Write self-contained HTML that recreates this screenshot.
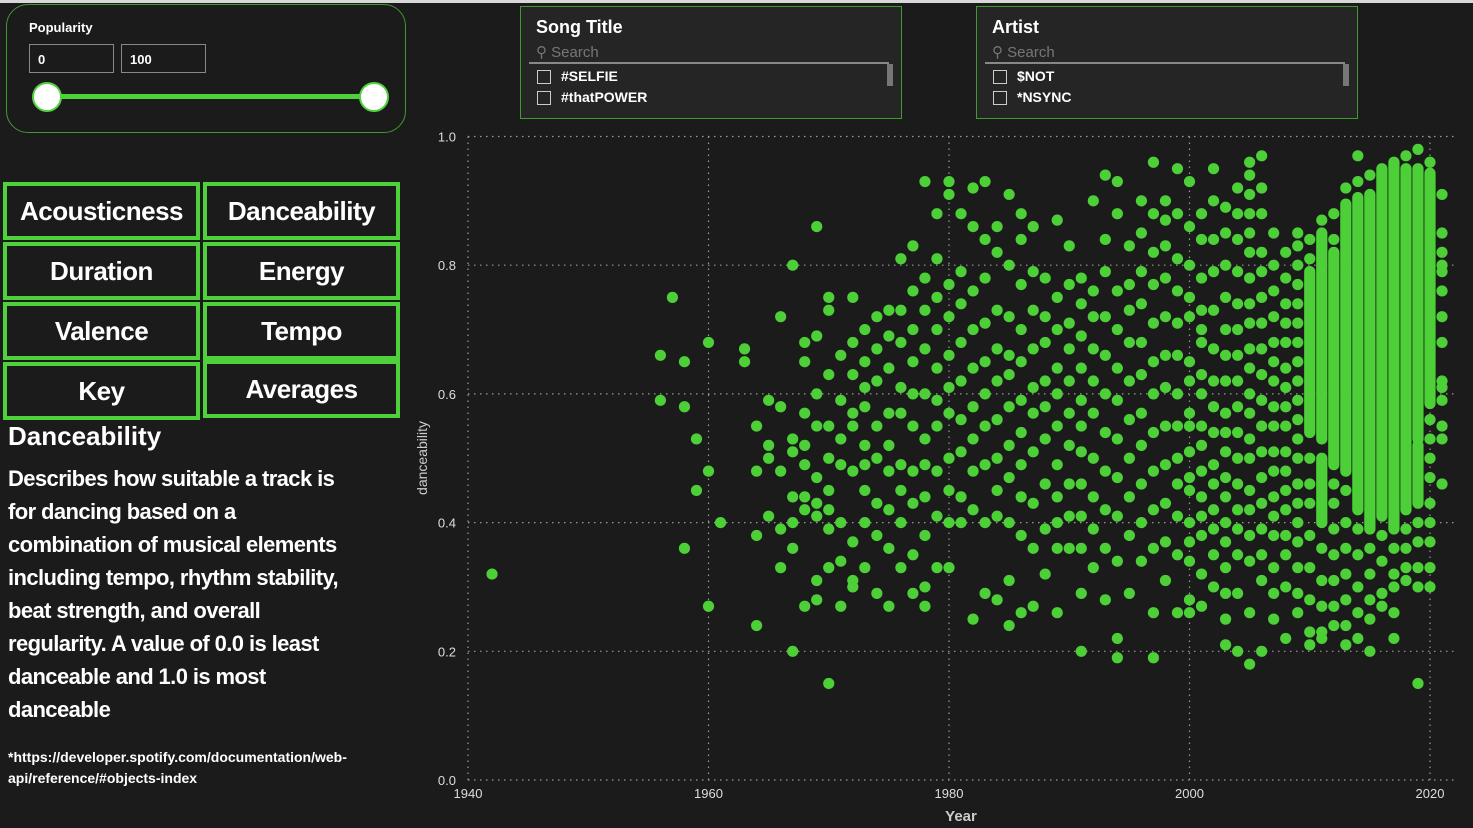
<!DOCTYPE html>
<html><head><meta charset="utf-8">
<style>
body{margin:0;width:1473px;height:828px;background:#1b1b1b;overflow:hidden;font-family:"Liberation Sans",sans-serif;color:#fff;position:relative}
.abs{position:absolute}
.btn{position:absolute;width:189px;height:50px;border:4px solid #4fd13c;background:#1b1b1b;display:flex;align-items:center;justify-content:center;font-weight:bold;font-size:26px;letter-spacing:-0.5px}
.slicer{position:absolute;top:6px;width:380px;height:111px;border:1px solid #3f9a30;background:#252525}
.slicer .t{position:absolute;left:15px;top:10px;font-size:18px;font-weight:bold}
.slicer .s{position:absolute;left:15px;top:36px;font-size:15px;color:#777}
.slicer .line{position:absolute;left:8px;right:12px;top:55px;height:2px;background:#888}
.slicer .sb{position:absolute;right:8px;top:57px;width:6px;height:22px;background:#777}
.cb{position:absolute;left:16px;width:12px;height:12px;border:1px solid #ccc}
.it{position:absolute;left:40px;font-size:14px;font-weight:bold}
</style></head><body>
<div class="abs" style="left:0;top:0;width:1473px;height:3px;background:#d8d8d8"></div>
<div class="abs" style="left:6px;top:4px;width:398px;height:127px;border:1px solid #3f9a30;border-radius:22px">
 <div class="abs" style="left:22px;top:15px;font-size:13px;font-weight:bold">Popularity</div>
 <div class="abs" style="left:22px;top:39px;font-size:13px;font-weight:bold;line-height:29px;padding-left:8px;box-sizing:border-box;width:85px;height:29px;border:1px solid #888">0</div>
 <div class="abs" style="left:114px;top:39px;width:85px;height:29px;border:1px solid #888;font-size:13px;font-weight:bold;line-height:29px;padding-left:8px;box-sizing:border-box">100</div>
 <div class="abs" style="left:40px;top:89px;width:328px;height:5px;background:#4fd13c"></div>
 <div class="abs" style="left:25px;top:77px;width:26px;height:26px;border-radius:50%;background:#fff;border:2px solid #4fd13c"></div>
 <div class="abs" style="left:352px;top:77px;width:26px;height:26px;border-radius:50%;background:#fff;border:2px solid #4fd13c"></div>
</div>
<div class="slicer" style="left:520px">
 <div class="t">Song Title</div>
 <div class="s">⚲ Search</div>
 <div class="line"></div><div class="sb"></div>
 <div class="cb" style="top:63px"></div><div class="it" style="top:61px">#SELFIE</div>
 <div class="cb" style="top:84px"></div><div class="it" style="top:82px">#thatPOWER</div>
</div>
<div class="slicer" style="left:976px">
 <div class="t">Artist</div>
 <div class="s">⚲ Search</div>
 <div class="line"></div><div class="sb"></div>
 <div class="cb" style="top:63px"></div><div class="it" style="top:61px">$NOT</div>
 <div class="cb" style="top:84px"></div><div class="it" style="top:82px">*NSYNC</div>
</div>
<div class="btn" style="left:3px;top:182px">Acousticness</div>
<div class="btn" style="left:203px;top:182px">Danceability</div>
<div class="btn" style="left:3px;top:242px">Duration</div>
<div class="btn" style="left:203px;top:242px">Energy</div>
<div class="btn" style="left:3px;top:302px">Valence</div>
<div class="btn" style="left:203px;top:302px">Tempo</div>
<div class="btn" style="left:3px;top:362px">Key</div>
<div class="btn" style="left:203px;top:360px">Averages</div>
<div class="abs" style="left:8px;top:421px;font-size:26px;font-weight:bold">Danceability</div>
<div class="abs" style="left:8px;top:462px;white-space:nowrap;font-size:22px;font-weight:bold;line-height:33px;letter-spacing:-0.6px">Describes how suitable a track is<br>for dancing based on a<br>combination of musical elements<br>including tempo, rhythm stability,<br>beat strength, and overall<br>regularity. A value of 0.0 is least<br>danceable and 1.0 is most<br>danceable</div>
<div class="abs" style="left:8px;top:747px;width:395px;font-size:14px;font-weight:bold;line-height:21px">*https://developer.spotify.com/documentation/web-api/reference/#objects-index</div>
<svg class="abs" style="left:0;top:0" width="1473" height="828" id="chart"></svg>
<script>
const xTicks=[1940,1960,1980,2000,2020];
const yTicks=[0,0.2,0.4,0.6,0.8,1.0];
const yTickLabels=["0.0","0.2","0.4","0.6","0.8","1.0"];
const pointYears=[1942,1956,1957,1958,1959,1960,1961,1963,1964,1965,1966,1967,1968,1969,1970,1971,1972,1973,1974,1975,1976,1977,1978,1979,1980,1981,1982,1983,1984,1985,1986,1987,1988,1989,1990,1991,1992,1993,1994,1995,1996,1997,1998,1999,2000,2001,2002,2003,2004,2005,2006,2007,2008,2009,2010,2011,2012,2013,2014,2015,2016,2017,2018,2019,2020,2021];
const pointValues=[
[0.32],[0.66,0.59],[0.75],[0.65,0.58,0.36],[0.53,0.45],[0.68,0.48,0.27],[0.40],[0.67,0.65],
[0.55,0.48,0.38,0.24],[0.59,0.52,0.50,0.41],[0.72,0.58,0.48,0.39,0.33],[0.80,0.53,0.51,0.44,0.40,0.36,0.20],
[0.68,0.65,0.57,0.52,0.49,0.44,0.42,0.27],[0.86,0.69,0.60,0.55,0.47,0.43,0.41,0.31,0.28],
[0.75,0.73,0.63,0.55,0.50,0.45,0.42,0.39,0.33,0.15],[0.66,0.59,0.53,0.49,0.40,0.34,0.27],
[0.75,0.68,0.63,0.57,0.55,0.48,0.37,0.31,0.30],[0.70,0.65,0.61,0.58,0.52,0.49,0.45,0.40,0.33],
[0.72,0.67,0.62,0.55,0.50,0.43,0.38,0.29],[0.73,0.69,0.64,0.57,0.52,0.48,0.42,0.36,0.27],
[0.81,0.73,0.68,0.61,0.57,0.49,0.45,0.40,0.33],[0.83,0.76,0.70,0.65,0.60,0.55,0.48,0.43,0.35,0.29],
[0.93,0.78,0.73,0.67,0.60,0.53,0.49,0.44,0.38,0.30,0.27],[0.88,0.81,0.75,0.70,0.64,0.59,0.55,0.48,0.41,0.33],
[0.93,0.91,0.77,0.72,0.66,0.61,0.57,0.50,0.45,0.40,0.33],[0.88,0.79,0.74,0.68,0.62,0.56,0.51,0.44,0.40],
[0.92,0.86,0.76,0.70,0.64,0.58,0.53,0.48,0.42,0.25],[0.93,0.84,0.78,0.71,0.65,0.60,0.55,0.49,0.40,0.29],
[0.86,0.82,0.73,0.67,0.62,0.56,0.50,0.45,0.41,0.28],[0.91,0.80,0.72,0.66,0.63,0.58,0.52,0.47,0.40,0.31,0.24],
[0.88,0.84,0.77,0.70,0.65,0.59,0.54,0.49,0.44,0.38,0.26],[0.86,0.79,0.73,0.67,0.61,0.57,0.51,0.43,0.36,0.27],
[0.78,0.72,0.68,0.62,0.58,0.53,0.46,0.39,0.32],[0.87,0.75,0.70,0.64,0.60,0.55,0.49,0.44,0.40,0.36,0.26],
[0.83,0.77,0.71,0.67,0.62,0.57,0.52,0.46,0.41,0.36],[0.78,0.74,0.69,0.64,0.59,0.55,0.51,0.46,0.41,0.36,0.29,0.20],
[0.90,0.76,0.72,0.67,0.62,0.57,0.50,0.44,0.39,0.33],[0.94,0.84,0.79,0.72,0.66,0.60,0.54,0.48,0.42,0.36,0.28],
[0.93,0.88,0.76,0.70,0.64,0.59,0.53,0.47,0.41,0.34,0.22,0.19],[0.83,0.77,0.73,0.68,0.62,0.56,0.50,0.44,0.38,0.29],
[0.90,0.85,0.79,0.74,0.68,0.63,0.57,0.52,0.46,0.40,0.34],[0.96,0.88,0.82,0.77,0.71,0.65,0.60,0.54,0.48,0.42,0.36,0.26,0.19],
[0.90,0.87,0.83,0.78,0.72,0.66,0.61,0.55,0.49,0.43,0.37,0.31],[0.95,0.88,0.81,0.76,0.71,0.66,0.60,0.55,0.50,0.46,0.41,0.35,0.26],
[0.93,0.86,0.80,0.75,0.72,0.65,0.62,0.57,0.55,0.51,0.47,0.45,0.40,0.37,0.34,0.28,0.26],
[0.88,0.84,0.78,0.73,0.70,0.68,0.63,0.60,0.55,0.52,0.48,0.44,0.41,0.38,0.32,0.27],
[0.95,0.90,0.84,0.79,0.73,0.67,0.62,0.58,0.54,0.49,0.46,0.42,0.39,0.35,0.30],
[0.89,0.85,0.80,0.75,0.70,0.66,0.62,0.57,0.54,0.51,0.47,0.44,0.40,0.37,0.33,0.29,0.25,0.21],
[0.92,0.88,0.84,0.79,0.74,0.70,0.66,0.62,0.58,0.54,0.50,0.46,0.42,0.39,0.35,0.29,0.20],
[0.96,0.94,0.91,0.88,0.85,0.82,0.78,0.74,0.71,0.67,0.64,0.60,0.57,0.53,0.50,0.45,0.42,0.38,0.34,0.26,0.18],
[0.97,0.92,0.88,0.82,0.79,0.75,0.71,0.67,0.63,0.59,0.55,0.51,0.47,0.43,0.39,0.35,0.31,0.20],
[0.85,0.80,0.76,0.72,0.68,0.65,0.62,0.58,0.55,0.51,0.48,0.44,0.41,0.38,0.33,0.29,0.25],
[0.82,0.78,0.74,0.71,0.68,0.64,0.61,0.58,0.55,0.51,0.48,0.45,0.42,0.38,0.35,0.30,0.22],
[0.85,0.83,0.80,0.77,0.74,0.71,0.68,0.65,0.62,0.59,0.56,0.53,0.50,0.46,0.43,0.40,0.37,0.33,0.29,0.26],
[0.84,0.81,0.50,0.46,0.43,0.38,0.33,0.28,0.23,0.21],
[0.87,0.36,0.31,0.27,0.23,0.22],
[0.88,0.84,0.46,0.43,0.39,0.35,0.31,0.27,0.24],
[0.92,0.45,0.40,0.36,0.32,0.28,0.24,0.21],
[0.97,0.93,0.39,0.35,0.30,0.26,0.22],
[0.94,0.36,0.32,0.28,0.25,0.20],
[0.38,0.34,0.29,0.27],
[0.36,0.32,0.30,0.26,0.22],
[0.97,0.39,0.36,0.33,0.31],
[0.98,0.40,0.37,0.33,0.30,0.15],
[0.96,0.56,0.53,0.50,0.47,0.43,0.40,0.37,0.33,0.30],
[0.91,0.85,0.82,0.80,0.79,0.76,0.72,0.68,0.62,0.61,0.59,0.55,0.53,0.46]
];
// dense clusters of overlapping points, given as value ranges per year
const denseYears=[2010,2011,2011,2012,2013,2014,2015,2016,2017,2018,2019,2019,2020];
const denseLow=[0.54,0.53,0.40,0.49,0.48,0.42,0.39,0.41,0.39,0.42,0.53,0.43,0.585];
const denseHigh=[0.79,0.85,0.50,0.82,0.895,0.905,0.91,0.95,0.96,0.95,0.95,0.52,0.943];

const svg=document.getElementById('chart');
const NS='http://www.w3.org/2000/svg';
const X0=468,X1=1430,Y0=780,Y1=136.5;
const xs=v=>X0+(v-1940)/(2020-1940)*(X1-X0);
const ys=v=>Y0-v*(Y0-Y1);
const R=5.6,COL='#4ccf37';
function mk(tag,attrs){const e=document.createElementNS(NS,tag);for(const k in attrs)e.setAttribute(k,attrs[k]);svg.appendChild(e);return e;}
yTicks.forEach((t,i)=>{
 const g=mk('line',{x1:X0,x2:1455,y1:ys(t),y2:ys(t),stroke:'#9a9a9a','stroke-width':1.2,'stroke-dasharray':'1.5 4.5'});
 
 
 const l=mk('text',{x:456,y:ys(t)+5,'text-anchor':'end',fill:'#ddd','font-size':13,'font-family':'Liberation Sans, sans-serif'});
 l.textContent=yTickLabels[i];
 
 
});
xTicks.forEach(t=>{
 const g=mk('line',{x1:xs(t),x2:xs(t),y1:Y1,y2:Y0,stroke:'#9a9a9a','stroke-width':1.2,'stroke-dasharray':'1.5 4.5'});
 
 
 const l=mk('text',{x:xs(t),y:798,'text-anchor':'middle',fill:'#ddd','font-size':13,'font-family':'Liberation Sans, sans-serif'});
 l.textContent=t;
 
 
});
const xt=mk('text',{x:961,y:821,'text-anchor':'middle',fill:'#ccc','font-size':15,'font-weight':'bold','font-family':'Liberation Sans, sans-serif'});
xt.textContent='Year';


const yt=mk('text',{x:0,y:0,transform:'translate(427,458) rotate(-90)','text-anchor':'middle',fill:'#ccc','font-size':14,'font-family':'Liberation Sans, sans-serif'});
yt.textContent='danceability';


denseYears.forEach((yr,i)=>{
 const r=mk('rect',{x:xs(yr)-R,y:ys(denseHigh[i])-R,width:2*R,height:ys(denseLow[i])-ys(denseHigh[i])+2*R,rx:R,fill:COL});
 
 
});
pointYears.forEach((yr,i)=>{
 pointValues[i].forEach(v=>{
  const c=mk('circle',{cx:xs(yr),cy:ys(v),r:R,fill:COL});
  
  
 });
});
</script>
</body></html>
